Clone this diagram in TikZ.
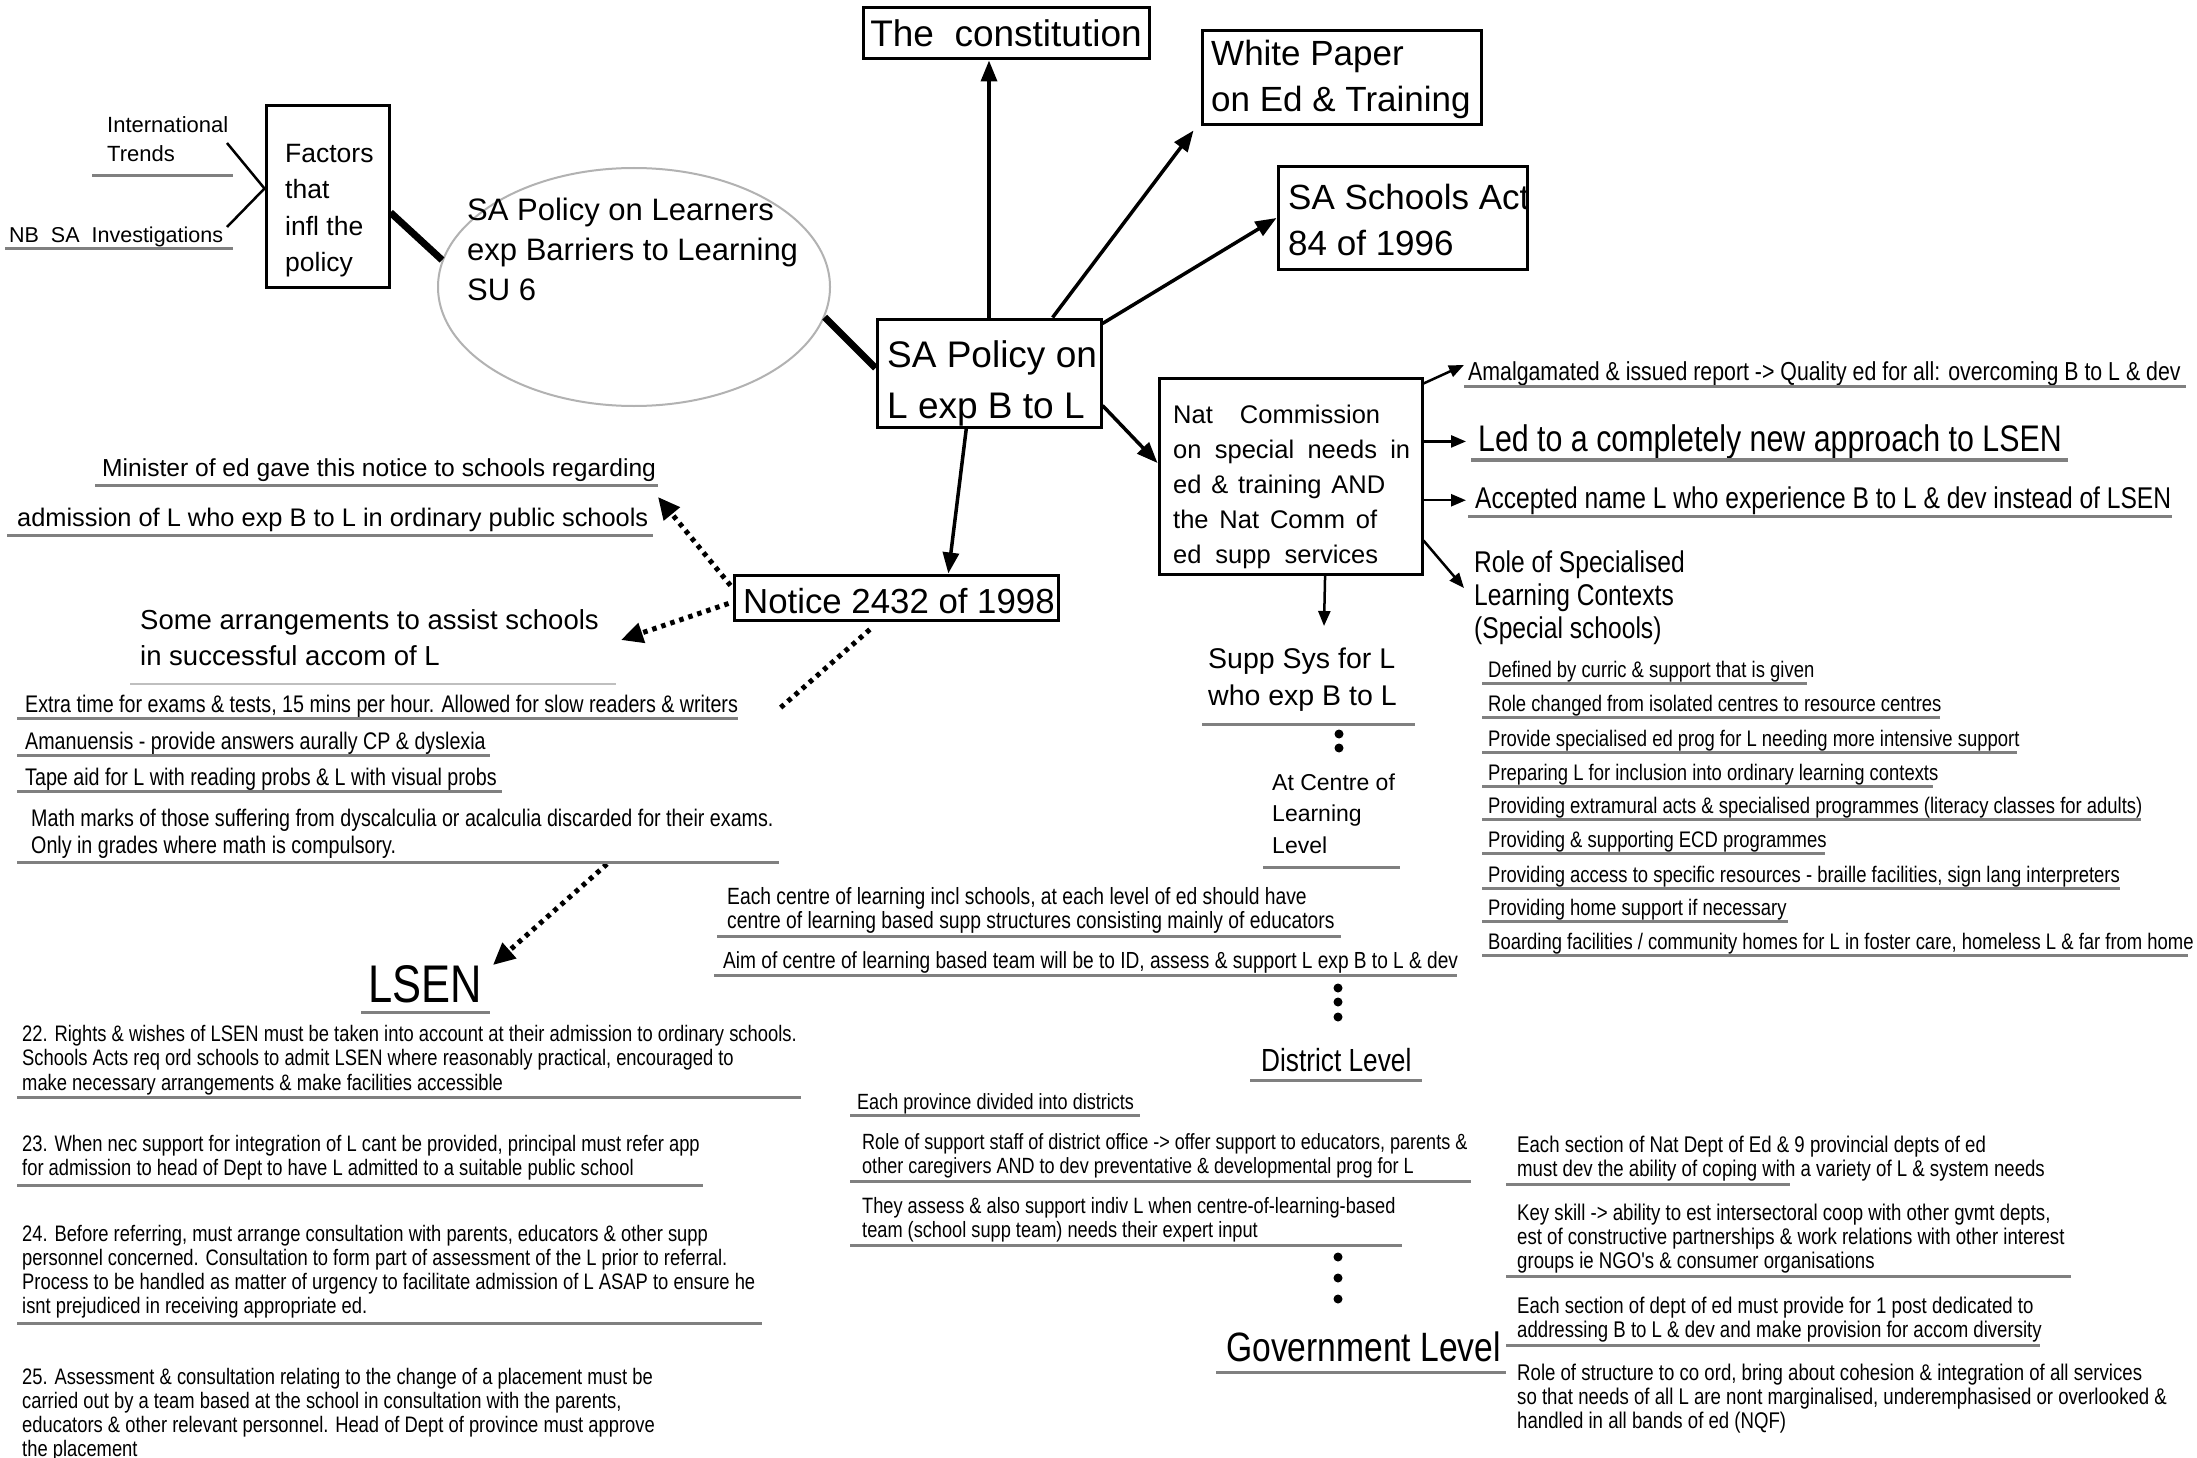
\documentclass[tikz,border=0pt]{standalone}
\usepackage{fontspec}
\setmainfont{Liberation Sans}
\newfontfamily\nf{Liberation Sans}[FakeStretch=0.82]
\usetikzlibrary{arrows.meta,shapes.geometric,calc}
\tikzset{
  T/.style={inner sep=0pt, anchor=base west, align=left},
  rg/.style 2 args={font=\fontsize{#1pt}{#2pt}\selectfont},
  nw/.style 2 args={font=\nf\fontsize{#1pt}{#2pt}\selectfont},
  box/.style={draw, line width=3pt, inner sep=0pt},
  ul/.style={draw=gray, line width=3pt},
  ull/.style={draw=gray!50, line width=2pt},
  arr/.style={line width=3.5pt, -{Triangle[length=21pt,width=16pt]}},
  sarr/.style={line width=2.5pt, -{Triangle[length=15pt,width=12pt]}},
  dotline/.style={line width=5pt, dash pattern=on 4.5pt off 5pt},
  darr/.style={dotline, -{Triangle[length=22pt,width=20pt]}},
  heavy/.style={line width=7pt},
  thinline/.style={line width=2.5pt},
}
\begin{document}
% note: multi-line nodes are placed by the baseline of their LAST line
\begin{tikzpicture}[x=1pt,y=-1pt]
\fill[white] (0,0) rectangle (2197,1458);
\useasboundingbox (0,0) rectangle (2197,1458);

% ---------- boxes ----------
\node[box, minimum width=286pt, minimum height=51pt] (const) at (1006,33.5) {};
\node[box, minimum width=279pt, minimum height=94pt] (white) at (1341.5,78) {};
\node[box, minimum width=249pt, minimum height=102pt] (schools) at (1402.5,218) {};
\node[box, minimum width=224pt, minimum height=108pt] (policy) at (989,373) {};
\node[box, minimum width=123pt, minimum height=181pt] (factors) at (327.5,196.5) {};
\node[box, minimum width=324pt, minimum height=45pt] (notice) at (896,597.5) {};
\node[box, minimum width=263pt, minimum height=196pt] (nat) at (1290.5,476) {};
\node[draw=gray!60, line width=2pt, ellipse, minimum width=392pt, minimum height=238pt, inner sep=0pt] (ell) at (634,287) {};

% ---------- box texts ----------
\node[inner sep=0pt, rg={37}{44}] (constt) at (const.center) {The\ \ constitution};
\node[T, rg={35}{46}] (whitet) at (1211,112) {White Paper\\on Ed \& Training};
\node[T, rg={35}{46}] (schoolt) at (1288,255) {SA Schools Act\\84 of 1996};
\node[T, rg={37}{51}] (policyt) at (887,418) {SA Policy on\\L exp B to L};
\node[T, rg={26.5}{36.5}] (factt) at (285,271.5) {Factors\\that\\infl the\\policy};
\node[T, rg={31}{40}] (ellt) at (467,300) {SA Policy on Learners\\exp Barriers to Learning\\SU 6};
\node[T, rg={34.8}{40}] (noticet) at (743,613) {Notice 2432 of 1998};
\node[T, rg={25.5}{35}] (natt) at (1173,563) {\makebox[207pt][s]{Nat Commission}\\\makebox[237pt][s]{on special needs in}\\\makebox[212pt][s]{ed \& training AND}\\\makebox[204pt][s]{the Nat Comm of}\\\makebox[205pt][s]{ed supp services}};

% ---------- left top ----------
\node[T, rg={22}{29}] (intl) at (107,162) {International\\Trends};
\node[T, rg={21.5}{29}] (nbsa) at (9,242) {NB\ \ SA\ \ Investigations};
\draw[ul] (92,176) -- (233,176);
\draw[ul] (5,248) -- (233,248);
\coordinate (intlE) at (227,143);
\coordinate (nbsaE) at (227,227);
\draw[thinline] (intlE) -- ($(factors.west)+(0,-8)$) -- (nbsaE);
\draw[heavy] ($(factors.east)+(0,16)$) -- (ell.172);
\draw[heavy] (ell.-9) -- ($(policy.west)+(0,-5)$);

% ---------- main arrows ----------
\draw[arr] (policy.north) -- (policy.north |- const.south);
\draw[arr] ($(policy.north west)!0.78!(policy.north east)$) -- ($(white.south west)+(-7,4)$);
\draw[arr] ($(policy.north east)+(0,6)$) -- (schools.west);
\draw[arr] ($(policy.south west)!0.4!(policy.south east)$) -- ($(notice.north west)!0.66!(notice.north east)$);
\draw[arr] ($(policy.south east)+(0,-23)$) -- ($(nat.west)+(0,-13)$);

% ---------- notice side ----------
\node[T, rg={24.6}{28}] (mini) at (102,476) {Minister of ed gave this notice to schools regarding};
\draw[ul] (95,485) -- (658,485);
\node[T, rg={25.4}{28}] (admi) at (17,526) {admission of L who exp B to L in ordinary public schools};
\draw[ul] (7,535) -- (653,535);
\node[T, rg={27.5}{36}] (some) at (140,665) {Some arrangements to assist schools\\in successful accom of L};
\draw[ull] (130,684) -- (616,684);

\coordinate (dA) at (658,497);
\coordinate (dB) at (621,640);
\coordinate (dC) at (779,709);
\coordinate (dD0) at (607,864);
\coordinate (dD) at (493,965);
\draw[darr] ($(notice.north west)+(-2,12)$) -- (dA);
\draw[darr] ($(notice.west)+(-4,6)$) -- (dB);
\draw[dotline] ($(notice.south west)!0.42!(notice.south east)+(0,8)$) -- (dC);
\draw[darr] (dD0) -- (dD);

\node[T, nw={24}{27}] (extra) at (25,712) {Extra time for exams \& tests, 15 mins per hour. Allowed for slow readers \& writers};
\draw[ul] (17,718) -- (738,718);
\node[T, nw={24}{27}] (aman) at (25,749) {Amanuensis - provide answers aurally CP \& dyslexia};
\draw[ul] (17,755) -- (490,755);
\node[T, nw={24}{27}] (tape) at (25,785) {Tape aid for L with reading probs \& L with visual probs};
\draw[ul] (17,791) -- (502,791);
\node[T, nw={24}{27}] (math) at (31,853) {Math marks of those suffering from dyscalculia or acalculia discarded for their exams.\\Only in grades where math is compulsory.};
\draw[ul] (17,862) -- (779,862);

\node[T, nw={53}{60}] (lsen) at (368,1002) {LSEN};
\draw[ul] (361,1012) -- (490,1012);
\node[T, nw={22.4}{24.5}] (p22) at (22,1090) {22. Rights \& wishes of LSEN must be taken into account at their admission to ordinary schools.\\Schools Acts req ord schools to admit LSEN where reasonably practical, encouraged to\\make necessary arrangements \& make facilities accessible};
\draw[ul] (17,1097) -- (801,1097);
\node[T, nw={22.4}{24.5}] (p23) at (22,1175.5) {23. When nec support for integration of L cant be provided, principal must refer app\\for admission to head of Dept to have L admitted to a suitable public school};
\draw[ul] (17,1185) -- (703,1185);
\node[T, nw={22.4}{24}] (p24) at (22,1313) {24. Before referring, must arrange consultation with parents, educators \& other supp\\personnel concerned. Consultation to form part of assessment of the L prior to referral.\\Process to be handled as matter of urgency to facilitate admission of L ASAP to ensure he\\isnt prejudiced in receiving appropriate ed.};
\draw[ul] (17,1323) -- (762,1323);
\node[T, nw={22.4}{24}] (p25) at (22,1456) {25. Assessment \& consultation relating to the change of a placement must be\\carried out by a team based at the school in consultation with the parents,\\educators \& other relevant personnel. Head of Dept of province must approve\\the placement};

% ---------- Nat commission side ----------
\node[T, nw={26}{30}] (amal) at (1468,380) {Amalgamated \& issued report -> Quality ed for all: overcoming B to L \& dev};
\draw[ul] (1464,386) -- (2186,386);
\node[T, nw={37}{42}] (led) at (1478,451) {Led to a completely new approach to LSEN};
\draw[ul, line width=4pt] (1471,460) -- (2068,460);
\node[T, nw={30}{34}] (acc) at (1475,508) {Accepted name L who experience B to L \& dev instead of LSEN};
\draw[ul] (1468,516) -- (2172,516);
\node[T, nw={30}{33}] (rolesp) at (1474,638) {Role of Specialised\\Learning Contexts\\(Special schools)};

\coordinate (amalA) at (1464,365);
\coordinate (roleA) at (1464,588);
\coordinate (suppA) at (1324,626);
\draw[sarr] ($(nat.north east)+(0,7)$) -- (amalA);
\draw[sarr] (nat.east |- led.west) -- ($(led.west)+(-12,0)$);
\draw[sarr] (nat.east |- acc.west) -- ($(acc.west)+(-9,0)$);
\draw[sarr] ($(nat.south east)+(0,-35)$) -- (roleA);
\draw[sarr] ($(nat.south west)!0.63!(nat.south east)$) -- (suppA);

\node[T, nw={22.5}{24}] (l1) at (1488,677) {Defined by curric \& support that is given};
\node[T, nw={22.5}{24}] (l2) at (1488,711) {Role changed from isolated centres to resource centres};
\node[T, nw={22.5}{24}] (l3) at (1488,746) {Provide specialised ed prog for L needing more intensive support};
\node[T, nw={22.5}{24}] (l4) at (1488,780) {Preparing L for inclusion into ordinary learning contexts};
\node[T, nw={22.5}{24}] (l5) at (1488,813) {Providing extramural acts \& specialised programmes (literacy classes for adults)};
\node[T, nw={22.5}{24}] (l6) at (1488,847) {Providing \& supporting ECD programmes};
\node[T, nw={22.5}{24}] (l7) at (1488,882) {Providing access to specific resources - braille facilities, sign lang interpreters};
\node[T, nw={22.5}{24}] (l8) at (1488,915) {Providing home support if necessary};
\node[T, nw={22.5}{24}] (l9) at (1488,949) {Boarding facilities / community homes for L in foster care, homeless L \& far from home};
\draw[ul] (1482,683) -- (1807,683);
\draw[ul] (1482,717) -- (1940,717);
\draw[ul] (1482,752) -- (2017,752);
\draw[ul] (1482,786) -- (1933,786);
\draw[ul] (1482,819) -- (2141,819);
\draw[ul] (1482,853) -- (1825,853);
\draw[ul] (1482,888) -- (2120,888);
\draw[ul] (1482,921) -- (1788,921);
\draw[ul] (1482,955) -- (2188,955);

% ---------- support system column ----------
\node[T, rg={28.5}{37}] (supp) at (1208,705) {Supp Sys for L\\who exp B to L};
\draw[ul] (1202,724) -- (1415,724);
\fill (1339,734) circle (4.5);
\fill (1339,748) circle (4.5);
\node[T, rg={23}{31.5}] (atc) at (1272,853) {At Centre of\\Learning\\Level};
\draw[ul] (1263,867) -- (1400,867);

\node[T, nw={23.5}{24.5}] (cen1) at (727,928.5) {Each centre of learning incl schools, at each level of ed should have\\centre of learning based supp structures consisting mainly of educators};
\draw[ul] (717,936) -- (1341,936);
\node[T, nw={23.3}{24}] (aim) at (723,968) {Aim of centre of learning based team will be to ID, assess \& support L exp B to L \& dev};
\draw[ul] (714,975) -- (1457,975);
\fill (1338,988) circle (4.5);
\fill (1338,1002) circle (4.5);
\fill (1338,1017) circle (4.5);

\node[T, nw={32}{36}] (dist) at (1261,1071) {District Level};
\draw[ul] (1250,1080) -- (1422,1080);
\node[T, nw={22}{24}] (prov) at (857,1109) {Each province divided into districts};
\draw[ul] (850,1115) -- (1140,1115);
\node[T, nw={22}{24}] (rolesup) at (862,1173) {Role of support staff of district office -> offer support to educators, parents \&\\other caregivers AND to dev preventative \& developmental prog for L};
\draw[ul] (850,1181) -- (1471,1181);
\node[T, nw={22.2}{24}] (assess) at (862,1237) {They assess \& also support indiv L when centre-of-learning-based\\team (school supp team) needs their expert input};
\draw[ul] (850,1245) -- (1402,1245);
\fill (1338,1257) circle (4.5);
\fill (1338,1278) circle (4.5);
\fill (1338,1299) circle (4.5);

\node[T, nw={41}{46}] (govt) at (1226,1361) {Government Level};
\draw[ul] (1216,1372) -- (1506,1372);

\node[T, nw={22.7}{24}] (secnat) at (1517,1176) {Each section of Nat Dept of Ed \& 9 provincial depts of ed\\must dev the ability of coping with a variety of L \& system needs};
\draw[ul] (1506,1184) -- (1790,1184);
\node[T, nw={22.7}{24}] (key) at (1517,1268) {Key skill -> ability to est intersectoral coop with other gvmt depts,\\est of constructive partnerships \& work relations with other interest\\groups ie NGO's \& consumer organisations};
\draw[ul] (1506,1276) -- (2071,1276);
\node[T, nw={22.7}{24}] (secdep) at (1517,1337) {Each section of dept of ed must provide for 1 post dedicated to\\addressing B to L \& dev and make provision for accom diversity};
\draw[ul] (1506,1345) -- (2040,1345);
\node[T, nw={22.7}{24}] (rolestr) at (1517,1428) {Role of structure to co ord, bring about cohesion \& integration of all services\\so that needs of all L are nont marginalised, underemphasised or overlooked \&\\handled in all bands of ed (NQF)};
\end{tikzpicture}
\end{document}
